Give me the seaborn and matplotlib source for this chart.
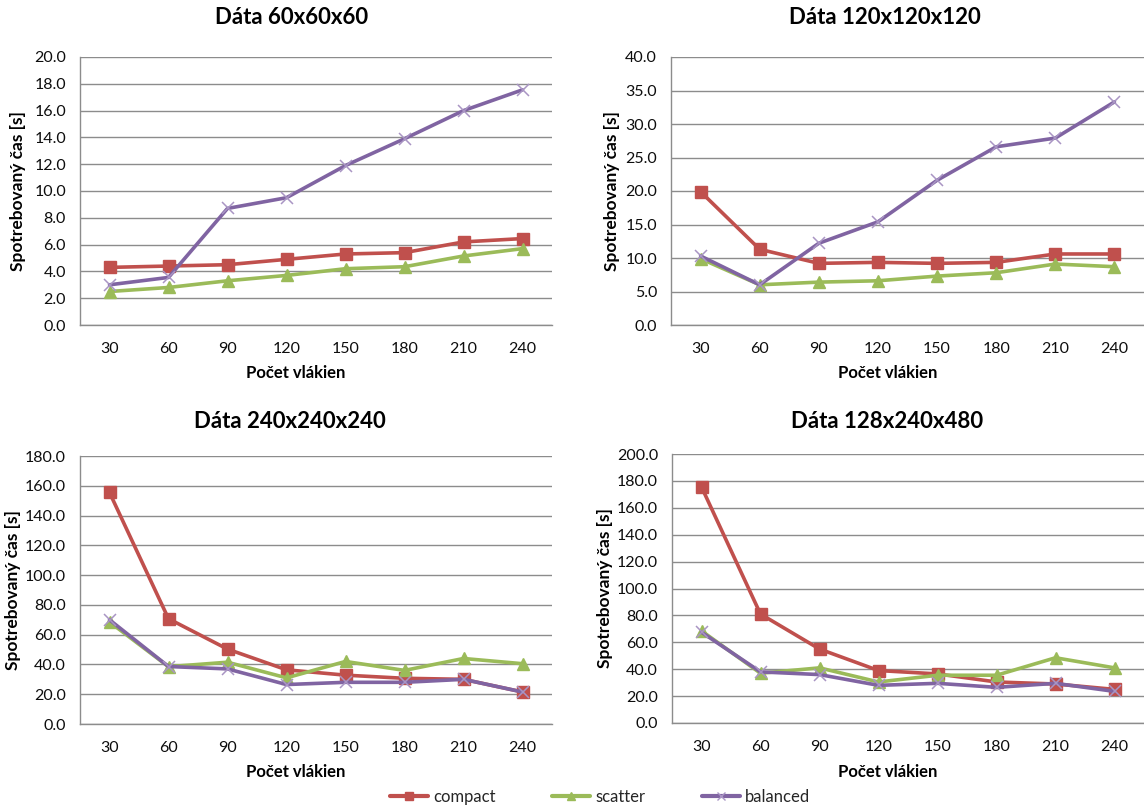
import matplotlib
matplotlib.use("Agg")
import matplotlib.pyplot as plt
from matplotlib.lines import Line2D
import seaborn as sns
import pandas as pd

sns.set_style("white")
plt.rcParams["font.family"] = ["Lato", "DejaVu Sans"]

threads = [30, 60, 90, 120, 150, 180, 210, 240]
modes = ["compact", "scatter", "balanced"]

titles = ["Dáta 60x60x60", "Dáta 120x120x120", "Dáta 240x240x240", "Dáta 128x240x480"]

compact_60 = [4.3, 4.4, 4.5, 4.9, 5.3, 5.4, 6.2, 6.45]
scatter_60 = [2.5, 2.8, 3.3, 3.7, 4.2, 4.35, 5.15, 5.7]
balanced_60 = [3.0, 3.55, 8.7, 9.5, 11.9, 13.9, 16.0, 17.55]

compact_120 = [19.9, 11.3, 9.2, 9.35, 9.2, 9.35, 10.6, 10.6]
scatter_120 = [9.9, 6.0, 6.4, 6.6, 7.3, 7.8, 9.1, 8.7]
balanced_120 = [10.3, 6.0, 12.2, 15.4, 21.6, 26.6, 27.9, 33.3]

compact_240 = [155.5, 70.7, 50.3, 36.4, 32.8, 30.7, 30.0, 21.5]
scatter_240 = [68.5, 38.5, 41.5, 31.0, 42.0, 36.0, 44.0, 40.5]
balanced_240 = [70.0, 38.6, 37.0, 26.5, 28.0, 28.0, 30.0, 21.5]

compact_480 = [175.5, 81.0, 55.0, 39.0, 36.5, 30.5, 29.0, 25.0]
scatter_480 = [68.5, 37.0, 41.0, 30.5, 35.5, 35.5, 48.5, 41.0]
balanced_480 = [67.5, 38.0, 36.0, 28.0, 29.5, 26.5, 29.5, 23.5]

panels = [
    (compact_60, scatter_60, balanced_60),
    (compact_120, scatter_120, balanced_120),
    (compact_240, scatter_240, balanced_240),
    (compact_480, scatter_480, balanced_480),
]
y_max = [20, 40, 180, 200]
y_step = [2, 5, 20, 20]

colors = {"compact": "#C0504D", "scatter": "#9BBB59", "balanced": "#8064A2"}
marker_style = {
    "compact": dict(marker="s", markersize=8.5, markeredgecolor="#C0504D", markeredgewidth=1),
    "scatter": dict(marker="^", markersize=9, markeredgecolor="#9BBB59", markeredgewidth=1),
    "balanced": dict(marker="x", markersize=9, markeredgecolor="#A995C4", markeredgewidth=1.1),
}

W, H = 1144, 809
fig = plt.figure(figsize=(W / 100, H / 100), dpi=100)

# plot areas in pixels: left, top, right, bottom
boxes = [(80, 57, 552, 325), (671, 57, 1144, 325), (80, 456, 552, 724), (672, 454, 1144, 723)]
title_pos = [(292, 18), (885, 18), (290, 421), (887, 421)]
ylabel_x = [18, 612, 13, 605]
xlabel_y = [373, 373, 772, 772]

grid_color = "#8C8C8C"
text_color = "#0D0D0D"

for i, (box, vals) in enumerate(zip(boxes, panels)):
    l, t, r, b = box
    ax = fig.add_axes([l / W, 1 - b / H, (r - l) / W, (b - t) / H])
    df = pd.DataFrame({
        "threads": threads * 3,
        "time": list(vals[0]) + list(vals[1]) + list(vals[2]),
        "mode": sum([[m] * len(threads) for m in modes], []),
    })
    for m in modes:
        sub = df[df["mode"] == m]
        sns.lineplot(data=sub, x="threads", y="time", ax=ax, color=colors[m],
                     lw=2.6, legend=False, **marker_style[m])
    ax.set_xlim(15, 255)
    ax.set_ylim(0, y_max[i])
    ax.set_xticks(threads)
    ax.set_xticklabels([str(v) for v in threads])
    yt = [k * y_step[i] for k in range(int(y_max[i] / y_step[i]) + 1)]
    ax.set_yticks(yt)
    ax.set_yticklabels([f"{v:.1f}" for v in yt])
    ax.yaxis.grid(True, color=grid_color, lw=1)
    ax.set_axisbelow(True)
    ax.tick_params(axis="both", length=0, labelsize=11.5, colors=text_color)
    ax.tick_params(axis="x", pad=12)
    ax.tick_params(axis="y", pad=10)
    for s in ["top", "right"]:
        ax.spines[s].set_visible(False)
    for s in ["left", "bottom"]:
        ax.spines[s].set_color(grid_color)
        ax.spines[s].set_linewidth(1)
    ax.set_xlabel("")
    ax.set_ylabel("")

    cx = (l + r) / 2
    fig.text(title_pos[i][0] / W, 1 - title_pos[i][1] / H, titles[i], ha="center", va="center",
             fontsize=16, fontweight="bold", color="black")
    fig.text(ylabel_x[i] / W, 1 - ((t + b) / 2) / H, "Spotrebovaný čas [s]", rotation=90,
             ha="center", va="center", fontsize=12.5, fontweight="bold", color="black")
    fig.text((cx - 20) / W, 1 - xlabel_y[i] / H, "Počet vlákien", ha="center", va="center",
             fontsize=12, fontweight="bold", color="black")

handles = [Line2D([0], [0], color=colors[m], lw=3, marker=marker_style[m]["marker"],
                  markersize=6, markeredgecolor=marker_style[m]["markeredgecolor"])
           for m in modes]
fig.legend(handles, modes, loc="center", bbox_to_anchor=(600 / W, 1 - 797 / H), ncol=3,
           frameon=False, fontsize=12, columnspacing=3.4, handlelength=2.3, handletextpad=0.3,
           borderaxespad=0, borderpad=0)

fig.savefig("out.png", dpi=100)
